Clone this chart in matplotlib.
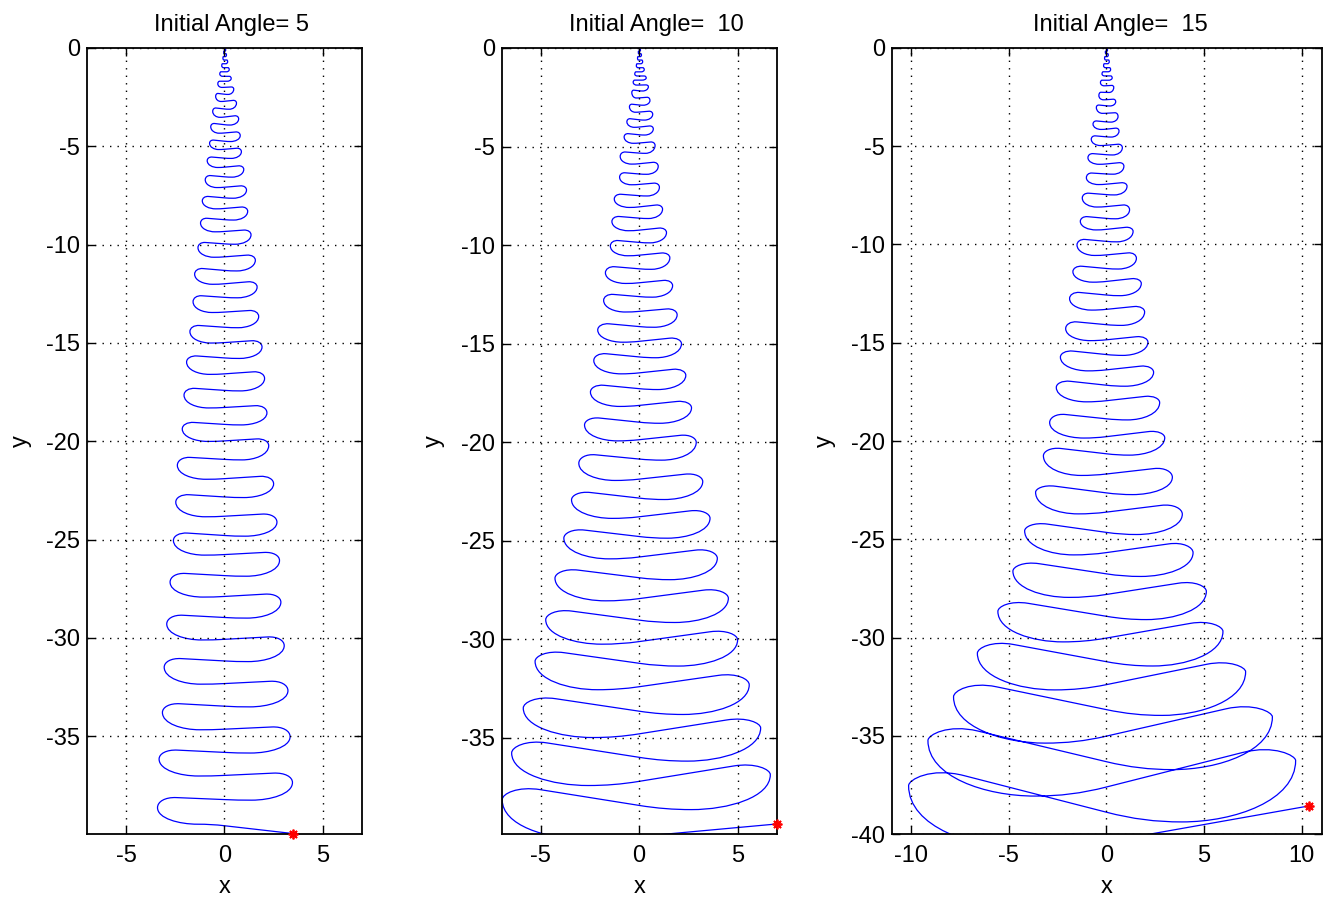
import matplotlib
matplotlib.use("Agg")
import matplotlib.pyplot as plt
from matplotlib.path import Path
from matplotlib.patches import PathPatch

plt.rcParams['font.family'] = ['Liberation Sans', 'DejaVu Sans']
plt.rcParams['axes.unicode_minus'] = False
plt.rcParams['lines.scale_dashes'] = False

titles = ["Initial Angle= 5", "Initial Angle=  10", "Initial Angle=  15"]

# turning points of each swing (x extreme, y there)
p1_x = [0, 0.06, -0.04, 0.10, -0.08, 0.16, -0.14, 0.24, -0.24, 0.34,
        -0.34, 0.47, -0.45, 0.61, -0.60, 0.72, -0.70, 0.80, -0.76, 0.86,
        -0.88, 0.98, -0.98, 1.12, -1.13, 1.18, -1.22, 1.35, -1.35, 1.57,
        -1.52, 1.66, -1.60, 1.74, -1.76, 1.91, -1.93, 2.04, -2.06, 2.16,
        -2.15, 2.25, -2.40, 2.50, -2.48, 2.67, -2.60, 2.80, -2.77, 2.87,
        -2.94, 3.04, -3.07, 3.23, -3.16, 3.34, -3.33, 3.46, -3.41, 3.51]
p1_y = [0, -0.10, -0.22, -0.36, -0.52, -0.70, -0.90, -1.10, -1.32, -1.55,
        -1.82, -2.09, -2.46, -2.80, -3.22, -3.60, -4.00, -4.45, -4.84, -5.27,
        -5.73, -6.17, -6.70, -7.22, -7.77, -8.30, -8.90, -9.50, -10.15, -10.79,
        -11.50, -12.15, -12.90, -13.65, -14.42, -15.20, -15.97, -16.80, -17.65, -18.55,
        -19.37, -20.22, -21.22, -22.16, -23.09, -24.11, -25.04, -26.06, -27.16, -28.18,
        -29.29, -30.39, -31.49, -32.68, -33.79, -35.02, -36.16, -37.35, -38.63, -39.95]
# y where each swing crosses x = 0
p1_mid = [-0.05, -0.16, -0.29, -0.44, -0.61, -0.80, -1.00, -1.21, -1.44, -1.69,
          -2.00, -2.35, -2.71, -3.10, -3.51, -3.90, -4.32, -4.74, -5.15, -5.60,
          -6.06, -6.55, -7.08, -7.62, -8.16, -8.73, -9.33, -9.96, -10.62, -11.31,
          -11.99, -12.68, -13.43, -14.20, -14.98, -15.76, -16.57, -17.41, -18.28, -19.14,
          -19.98, -20.92, -21.90, -22.83, -23.81, -24.79, -25.76, -26.83, -27.89, -28.96,
          -30.07, -31.17, -32.32, -33.47, -34.64, -35.82, -36.99, -38.22, -39.55]

p2_x = [0, 0.07, -0.04, 0.12, -0.08, 0.18, -0.14, 0.26, -0.22, 0.36,
        -0.30, 0.47, -0.37, 0.55, -0.49, 0.69, -0.62, 0.72, -0.76, 0.81,
        -0.96, 0.97, -0.99, 1.03, -1.26, 1.19, -1.38, 1.39, -1.46, 1.56,
        -1.71, 1.70, -1.80, 1.93, -2.10, 2.15, -2.30, 2.37, -2.47, 2.66,
        -2.77, 2.90, -3.06, 3.23, -3.43, 3.60, -3.82, 3.97, -4.27, 4.53,
        -4.74, 5.00, -5.28, 5.59, -5.88, 6.17, -6.47, 6.66, -6.95, 7.00]
p2_y = [0, -0.10, -0.22, -0.36, -0.52, -0.70, -0.90, -1.10, -1.32, -1.52,
        -1.74, -1.96, -2.26, -2.66, -2.98, -3.36, -3.74, -4.10, -4.51, -4.94,
        -5.50, -6.00, -6.55, -7.06, -7.66, -8.17, -8.80, -9.36, -10.04, -10.64,
        -11.40, -12.05, -12.80, -13.53, -14.30, -15.00, -15.85, -16.60, -17.45, -18.25,
        -19.12, -20.00, -21.06, -21.99, -22.92, -23.85, -24.86, -25.88, -26.89, -27.91,
        -29.00, -30.02, -31.11, -32.30, -33.48, -34.49, -35.76, -36.86, -38.13, -39.36]
p2_mid = [-0.05, -0.16, -0.29, -0.44, -0.61, -0.80, -1.00, -1.21, -1.42, -1.63,
          -1.88, -2.17, -2.53, -2.89, -3.25, -3.64, -4.01, -4.40, -4.82, -5.33,
          -5.87, -6.39, -6.92, -7.49, -8.06, -8.63, -9.24, -9.86, -10.51, -11.20,
          -11.91, -12.61, -13.36, -14.13, -14.88, -15.67, -16.48, -17.28, -18.13, -18.98,
          -19.87, -20.85, -21.87, -22.83, -23.78, -24.78, -25.82, -26.87, -27.93, -29.02,
          -30.11, -31.21, -32.40, -33.64, -34.79, -35.98, -37.20, -38.42, -40.00]

p3_x = [0, 0.06, -0.05, 0.10, -0.09, 0.15, -0.14, 0.22, -0.22, 0.30,
        -0.30, 0.38, -0.38, 0.48, -0.51, 0.60, -0.68, 0.65, -0.77, 0.82,
        -0.94, 0.90, -1.02, 1.06, -1.23, 1.19, -1.33, 1.37, -1.50, 1.54,
        -1.71, 1.79, -1.88, 1.96, -2.08, 2.13, -2.35, 2.42, -2.56, 2.73,
        -2.90, 2.99, -3.22, 3.38, -3.62, 3.89, -4.18, 4.44, -4.78, 5.12,
        -5.55, 5.97, -6.60, 7.13, -7.82, 8.50, -9.13, 9.69, -10.12, 10.38]
p3_y = [0, -0.10, -0.22, -0.36, -0.52, -0.70, -0.90, -1.10, -1.32, -1.52,
        -1.76, -2.00, -2.42, -2.73, -3.02, -3.48, -3.87, -4.22, -4.64, -5.07,
        -5.58, -6.01, -6.60, -7.03, -7.63, -8.23, -8.82, -9.33, -10.02, -10.70,
        -11.38, -11.98, -12.75, -13.43, -14.28, -14.97, -15.73, -16.50, -17.27, -18.04,
        -19.06, -19.83, -20.75, -21.84, -22.61, -23.72, -24.57, -25.68, -26.62, -27.65,
        -28.67, -29.69, -30.80, -31.74, -33.02, -34.04, -35.24, -36.26, -37.54, -38.57]
p3_mid = [-0.05, -0.16, -0.29, -0.44, -0.61, -0.80, -1.00, -1.21, -1.42, -1.64,
          -1.92, -2.26, -2.63, -2.94, -3.32, -3.76, -4.13, -4.52, -4.95, -5.43,
          -5.90, -6.41, -6.93, -7.46, -8.07, -8.67, -9.23, -9.84, -10.53, -11.22,
          -11.88, -12.57, -13.30, -14.08, -14.85, -15.60, -16.38, -17.16, -17.95, -18.87,
          -19.78, -20.65, -21.68, -22.64, -23.62, -24.65, -25.68, -26.76, -27.81, -28.92,
          -30.03, -31.23, -32.40, -33.67, -35.02, -36.32, -37.61, -38.89, -40.40]

x_ticks = [[-5, 0, 5], [-5, 0, 5], [-10, -5, 0, 5, 10]]
y_ticks = [[-35, -30, -25, -20, -15, -10, -5, 0],
           [-35, -30, -25, -20, -15, -10, -5, 0],
           [-40, -35, -30, -25, -20, -15, -10, -5, 0]]
x_lims = [(-7.0, 7.0), (-6.96, 7.0), (-10.97, 11.04)]
y_lims = [(-39.97, 0), (-39.87, 0), (-40, 0)]


def swing_path(xs, ys, mids):
    # each half swing: turn -> low point -> centre crossing -> top of the
    # next turn -> next turn, drawn as bezier pieces
    verts = [(xs[0], ys[0])]
    n = len(mids)
    for k in range(n):
        xa, ya = xs[k], ys[k]
        xb, yb = xs[k + 1], ys[k + 1]
        ym = mids[k]
        gap = ya - yb
        last = k == n - 1
        if last:
            px, py = xb, yb
        else:
            px, py = 0.72 * xb, max(ym, yb + 0.4 * gap)
        m = (py - ym) / px
        w = 0.4 * xa
        ylow = ym + 0.5 * m * w
        d = max(ya - ylow, 0.2 * gap)
        verts += [(xa, ya - 0.65 * d), (0.68 * xa, ylow), (w, ylow)]
        verts += [(0.65 * w, ylow), (0.35 * w, ym + 0.35 * w * m), (0.0, ym)]
        verts += [(0.35 * px, ym + 0.35 * px * m),
                  (0.65 * px, ym + 0.65 * px * m), (px, py)]
        if not last:
            verts += [(px + 0.6 * (xb - px), py + 0.6 * (xb - px) * m),
                      (xb, yb + 0.6 * (py - yb)), (xb, yb)]
    codes = [Path.MOVETO] + [Path.CURVE4] * (len(verts) - 1)
    return Path(verts, codes)


fig = plt.figure(figsize=(13.3, 8.99), dpi=100)
W, H = 1330.0, 899.0
boxes = [(87, 275), (502, 275), (892, 430)]
title_x = [0.527, 0.56, 0.53]
ylab_x = [-0.218, -0.225, -0.142]
curves = [(p1_x, p1_y, p1_mid), (p2_x, p2_y, p2_mid), (p3_x, p3_y, p3_mid)]

for i in range(3):
    left, width = boxes[i]
    ax = fig.add_axes([left / W, (H - 834) / H, width / W, 786 / H])
    xs, ys, mids = curves[i]
    ax.add_patch(PathPatch(swing_path(xs, ys, mids), fill=False,
                           edgecolor=(0, 0, 1), lw=0.9))
    ax.plot(xs[-1], ys[-1], marker=(8, 2, 0), color='red', ms=7, mew=1.3,
            clip_on=False, zorder=5)
    ax.set_xlim(x_lims[i])
    ax.set_ylim(y_lims[i])
    ax.set_xticks(x_ticks[i])
    ax.set_yticks(y_ticks[i])
    ax.grid(True, color='k', linestyle=(0, (1.0, 4.4)), linewidth=1.0)
    ax.tick_params(direction='in', length=6, width=1, top=True, right=True,
                   labelsize=17, color='k')
    ax.tick_params(axis='x', pad=8)
    ax.tick_params(axis='y', pad=5)
    for s in ax.spines.values():
        s.set_linewidth(1.3)
    ax.text(title_x[i], 1 + 17 / 786, titles[i], transform=ax.transAxes,
            ha='center', va='baseline', fontsize=17)
    ax.set_xlabel('x', fontsize=17, va='baseline')
    ax.xaxis.set_label_coords(0.5, -59 / 786)
    ax.set_ylabel('y', fontsize=17, va='baseline')
    ax.yaxis.set_label_coords(ylab_x[i], 0.5)

fig.savefig('out.png', dpi=100)
